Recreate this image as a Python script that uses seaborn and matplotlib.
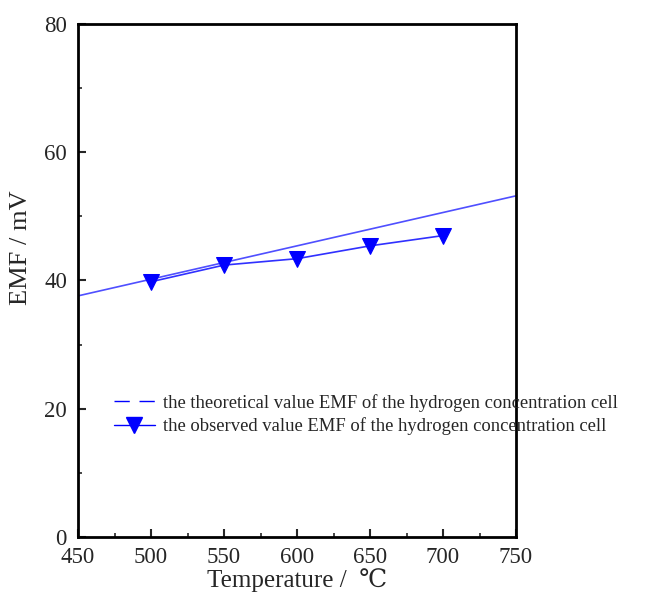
import numpy as np
import pandas as pd
import matplotlib
matplotlib.use('Agg')
import matplotlib.pyplot as plt
from matplotlib.lines import Line2D
from matplotlib.ticker import MultipleLocator
import seaborn as sns

# theoretical EMF (straight line across the whole range)
theory_temp = [450, 500, 550, 600, 650, 700, 750]
theory_emf = [37.6, 40.2, 42.8, 45.4, 48.0, 50.6, 53.2]

# observed EMF
obs_temp = [500, 550, 600, 650, 700]
obs_emf = [39.8, 42.4, 43.4, 45.4, 47.0]

x_ticks = [450, 500, 550, 600, 650, 700, 750]
y_ticks = [0, 20, 40, 60, 80]

sns.set_style('white')
plt.rcParams['font.family'] = ['Liberation Serif', 'DejaVu Serif']

fig = plt.figure(figsize=(6.45, 5.99), dpi=100)
ax = fig.add_axes([0.121, 0.1035, 0.679, 0.8565])

df_t = pd.DataFrame({'T': theory_temp, 'EMF': theory_emf})
df_o = pd.DataFrame({'T': obs_temp, 'EMF': obs_emf})

sns.lineplot(data=df_t, x='T', y='EMF', ax=ax, color='#3030ff', lw=1.2, alpha=0.85)
sns.lineplot(data=df_o, x='T', y='EMF', ax=ax, color='#3030ff', lw=1.2,
             marker='v', markersize=11, markeredgecolor='blue', markerfacecolor='blue')

ax.set_xlim(450, 750)
ax.set_ylim(0, 80)
ax.set_xticks(x_ticks)
ax.set_yticks(y_ticks)
ax.xaxis.set_minor_locator(MultipleLocator(25))
ax.yaxis.set_minor_locator(MultipleLocator(10))
ax.tick_params(which='major', direction='in', length=6, width=1.5, labelsize=16.5,
               bottom=True, left=True, top=False, right=False)
ax.tick_params(axis='y', which='major', pad=8)
ax.tick_params(axis='x', which='major', pad=7)
ax.tick_params(which='minor', direction='in', length=3, width=1.2,
               bottom=True, left=True, top=False, right=False)
for s in ax.spines.values():
    s.set_linewidth(2)
    s.set_color('black')

ax.set_xlabel('Temperature /  ℃', fontsize=18, labelpad=0)
ax.set_ylabel('EMF / mV', fontsize=19)
ax.yaxis.set_label_coords(-0.106, 0.563)

handles = [
    Line2D([], [], color='blue', lw=1, ls=(0, (11, 7))),
    Line2D([], [], color='blue', lw=1, marker='v', markersize=12),
]
labels = ['the theoretical value EMF of the hydrogen concentration cell',
          'the observed value EMF of the hydrogen concentration cell']
fig.legend(handles, labels, loc='upper left', bbox_to_anchor=(0.165, 0.355),
           frameon=False, fontsize=13.4, handlelength=2.2, handletextpad=0.45,
           labelspacing=0.3, borderaxespad=0)

fig.savefig('out.png', dpi=100, facecolor='white')
